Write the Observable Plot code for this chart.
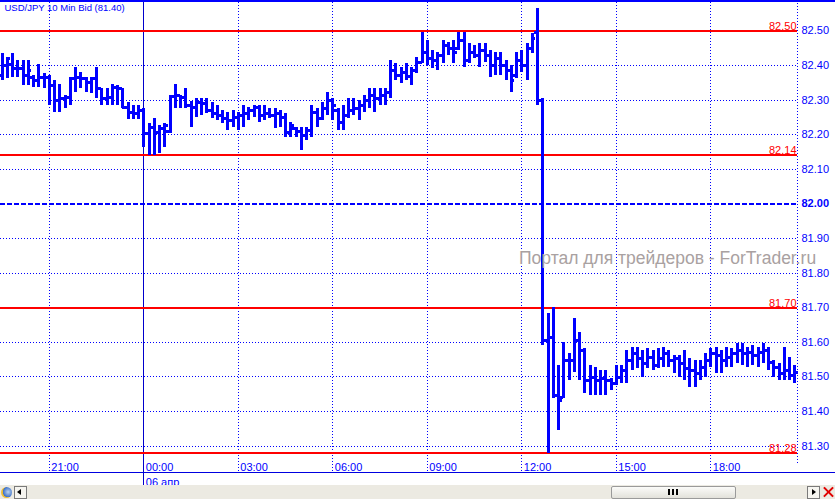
<!DOCTYPE html>
<html>
<head>
<meta charset="utf-8">
<script src="https://cdn.jsdelivr.net/npm/d3@7"></script>
<script src="https://cdn.jsdelivr.net/npm/@observablehq/plot@0.6"></script>
<style>
html,body{margin:0;padding:0;background:#fff;}
#wrap{position:relative;width:835px;height:499px;overflow:hidden;font-family:"Liberation Sans",Arial,sans-serif;}
#chart svg{display:block;}
.abs{position:absolute;}
.topline{left:0;top:0;width:835px;height:2px;background:#0000ff;}
.botline{left:0;top:472px;width:835px;height:1px;background:#0000e0;}
.wm{left:519px;top:250px;font-size:17.5px;line-height:1;color:#a9a1a1;white-space:nowrap;}
.scroll{left:0;top:485px;width:835px;height:14px;background:#eceae2;}
.globe{left:1px;top:487px;width:11px;height:11px;border-radius:50%;background:radial-gradient(circle at 65% 45%,#bcd4ee 0,#3a6fc8 55%,#e8b830 58%,#f4d060 100%);}
.btn{top:486px;width:11px;height:11px;border:1px solid #7a7a7a;background:#f6f5f0;box-sizing:content-box;}
.triL{left:17px;top:489px;width:0;height:0;border-top:3px solid transparent;border-bottom:3px solid transparent;border-right:4px solid #000;}
.triR{left:812px;top:489px;width:0;height:0;border-top:3px solid transparent;border-bottom:3px solid transparent;border-left:4px solid #000;}
.thumb{left:611px;top:486px;width:123px;height:11px;border:1px solid #9a9a9a;background:linear-gradient(#fbfbf9,#e2e1da);border-radius:2px;}
.grip{top:489px;width:2px;height:6px;background:#000;}
.xa,.xb{left:822px;top:491px;width:13px;height:2px;background:#e00000;}
.xa{transform:rotate(45deg);} .xb{transform:rotate(-45deg);}
</style>
</head>
<body>
<div id="wrap">
  <div id="chart"></div>
  <div class="abs topline"></div>
  <div class="abs botline"></div>
  <div class="abs wm">Портал для трейдеров - ForTrader.ru</div>
  <div class="abs scroll"></div>
  <div class="abs globe"></div>
  <div class="abs btn" style="left:14px"></div>
  <div class="abs triL"></div>
  <div class="abs thumb"></div>
  <div class="abs grip" style="left:668px"></div>
  <div class="abs grip" style="left:672px"></div>
  <div class="abs grip" style="left:676px"></div>
  <div class="abs btn" style="left:807px"></div>
  <div class="abs triR"></div>
  <div class="abs xa"></div>
  <div class="abs xb"></div>
</div>
<script>
// ---- data (USD/JPY 10-minute bid bars, 05-06 Apr) ----
const title = "USD/JPY 10 Min Bid (81.40)";
const firstBar = "2012-04-05T19:30:00Z";
const barMinutes = 10;
const xDomain = ["2012-04-05T19:27:00Z", "2012-04-06T20:45:05Z"];
const yDomain = [81.2206, 82.5818];

const open = [
82.371,82.400,82.402,82.390,82.390,82.371,82.366,82.356,82.366,82.366,
82.342,82.299,82.304,82.308,82.361,82.366,82.361,82.352,82.361,82.332,
82.304,82.308,82.337,82.332,82.279,82.265,82.260,
82.270,82.202,82.221,82.207,82.217,82.209,82.311,82.313,82.308,82.284,
82.279,82.294,82.289,82.270,82.260,82.255,82.246,82.241,82.250,82.255,
82.260,82.270,82.279,82.255,82.260,82.255,82.260,82.250,82.207,82.218,
82.209,82.197,82.212,82.264,82.247,82.275,82.299,82.270,82.235,82.255,
82.270,82.275,82.284,82.299,82.313,82.304,82.313,82.322,82.385,82.371,
82.380,82.368,82.385,82.408,82.437,82.420,82.414,82.429,82.458,82.449,
82.449,82.472,82.414,82.437,82.429,82.443,82.429,82.400,82.420,82.400,
82.385,82.371,82.414,82.400,82.449,82.496,82.299,81.605,81.614,81.446,
81.441,81.547,81.547,81.605,81.576,81.489,81.499,81.489,81.494,81.489,
81.480,81.499,81.518,81.547,81.567,81.552,81.538,81.557,81.533,81.552,
81.567,81.547,81.552,81.538,81.523,81.518,81.509,81.528,81.547,81.567,
81.562,81.547,81.557,81.567,81.576,81.567,81.571,81.562,81.571,81.576,
81.542,81.528,81.509,81.518,81.504];

const high = [
82.434,82.424,82.434,82.414,82.414,82.414,82.371,82.402,82.376,82.371,
82.356,82.344,82.313,82.366,82.395,82.380,82.366,82.366,82.395,82.332,
82.332,82.344,82.342,82.332,82.294,82.284,82.284,
82.275,82.231,82.246,82.226,82.231,82.313,82.344,82.313,82.334,82.296,
82.304,82.304,82.304,82.294,82.284,82.270,82.265,82.270,82.265,82.284,
82.279,82.284,82.284,82.284,82.275,82.275,82.270,82.261,82.236,82.221,
82.221,82.221,82.284,82.275,82.294,82.323,82.304,82.275,82.284,82.304,
82.304,82.299,82.313,82.332,82.332,82.332,82.332,82.414,82.405,82.395,
82.405,82.395,82.424,82.496,82.472,82.443,82.438,82.472,82.467,82.472,
82.496,82.496,82.462,82.458,82.462,82.462,82.443,82.438,82.438,82.414,
82.400,82.438,82.443,82.462,82.491,82.564,82.304,81.683,81.701,81.533,
81.600,81.567,81.668,81.629,81.581,81.533,81.528,81.518,81.518,81.494,
81.533,81.533,81.576,81.586,81.586,81.576,81.581,81.576,81.581,81.586,
81.576,81.562,81.562,81.576,81.552,81.547,81.547,81.567,81.581,81.586,
81.576,81.586,81.581,81.596,81.596,81.586,81.591,81.586,81.596,81.586,
81.547,81.538,81.586,81.557,81.533];

const low = [
82.356,82.361,82.366,82.366,82.342,82.342,82.337,82.337,82.332,82.284,
82.265,82.265,82.275,82.284,82.323,82.332,82.323,82.318,82.304,82.284,
82.284,82.284,82.284,82.275,82.244,82.244,82.244,
82.164,82.140,82.140,82.145,82.164,82.202,82.275,82.275,82.275,82.221,
82.250,82.255,82.260,82.246,82.241,82.231,82.212,82.221,82.212,82.221,
82.241,82.250,82.236,82.241,82.246,82.217,82.221,82.193,82.193,82.193,
82.154,82.183,82.193,82.221,82.241,82.255,82.241,82.212,82.212,82.246,
82.255,82.241,82.265,82.275,82.265,82.284,82.284,82.304,82.356,82.347,
82.356,82.342,82.376,82.405,82.400,82.390,82.385,82.405,82.429,82.405,
82.443,82.395,82.405,82.419,82.395,82.409,82.366,82.371,82.371,82.356,
82.323,82.361,82.380,82.356,82.434,82.284,81.591,81.278,81.437,81.345,
81.437,81.489,81.513,81.489,81.451,81.446,81.446,81.446,81.446,81.461,
81.475,81.480,81.480,81.518,81.523,81.499,81.523,81.518,81.523,81.528,
81.528,81.509,81.499,81.489,81.470,81.470,81.489,81.499,81.528,81.509,
81.509,81.528,81.528,81.538,81.533,81.528,81.533,81.528,81.538,81.518,
81.499,81.489,81.489,81.489,81.480];

const close = [
82.400,82.419,82.390,82.390,82.371,82.385,82.356,82.366,82.366,82.342,
82.299,82.304,82.308,82.361,82.366,82.361,82.352,82.361,82.332,82.304,
82.308,82.337,82.332,82.279,82.265,82.260,82.270,
82.202,82.221,82.207,82.217,82.226,82.311,82.313,82.308,82.284,82.279,
82.294,82.289,82.270,82.260,82.255,82.246,82.241,82.250,82.255,82.260,
82.270,82.279,82.255,82.260,82.255,82.260,82.250,82.207,82.226,82.209,
82.197,82.212,82.264,82.247,82.275,82.299,82.284,82.235,82.255,82.270,
82.275,82.284,82.299,82.313,82.304,82.313,82.322,82.385,82.371,82.380,
82.368,82.385,82.408,82.437,82.420,82.414,82.429,82.458,82.449,82.437,
82.472,82.414,82.437,82.429,82.443,82.429,82.400,82.420,82.400,82.385,
82.356,82.414,82.400,82.449,82.478,82.299,81.605,81.614,81.446,81.432,
81.547,81.547,81.605,81.576,81.489,81.499,81.489,81.494,81.489,81.480,
81.499,81.518,81.547,81.567,81.552,81.538,81.557,81.533,81.552,81.567,
81.547,81.552,81.538,81.523,81.518,81.509,81.528,81.547,81.567,81.562,
81.547,81.557,81.567,81.576,81.567,81.571,81.562,81.571,81.576,81.542,
81.528,81.509,81.518,81.504,81.513];

const yTicks = [82.50,82.40,82.30,82.20,82.10,82.00,81.90,81.80,81.70,81.60,81.50,81.40,81.30];
const boldTick = 82.00;
const levels = [82.50, 82.14, 81.70, 81.28];
const gridTimes = ["2012-04-05T21:00:00Z","2012-04-06T03:00:00Z","2012-04-06T06:00:00Z","2012-04-06T09:00:00Z","2012-04-06T12:00:00Z","2012-04-06T15:00:00Z","2012-04-06T18:00:00Z"];
const dayStart = "2012-04-06T00:00:00Z";
const dayLabel = "06 апр";

// ---- build ----
const blue = "#0000ff", red = "#ff0000";
const t0 = new Date(firstBar);
const bars = open.map((o, i) => ({
  date: d3.utcMinute.offset(t0, barMinutes * i),
  open: o, high: high[i], low: low[i], close: close[i]
}));
const grid = gridTimes.map(s => new Date(s));
const day = new Date(dayStart);
const fmt = d3.utcFormat("%H:%M");
const crisp = {shapeRendering: "crispEdges"};

const chart = Plot.plot({
  width: 835, height: 485,
  marginTop: 2, marginBottom: 12, marginLeft: 0, marginRight: 38,
  x: {type: "utc", domain: xDomain.map(s => new Date(s)), axis: null},
  y: {domain: yDomain, axis: null},
  style: {fontFamily: "'Liberation Sans', Arial, sans-serif", fontSize: "11px", background: "#fff", overflow: "visible"},
  marks: [
    Plot.ruleY(yTicks.filter(v => v !== boldTick), {y: d => d, stroke: blue, strokeWidth: 1, strokeDasharray: "1,2", ...crisp}),
    Plot.ruleX(grid, {x: d => d, stroke: blue, strokeWidth: 1, strokeDasharray: "1,2", insetBottom: 1, ...crisp}),
    Plot.ruleX([new Date(xDomain[1])], {x: d => d, stroke: blue, strokeDasharray: "1,2", insetTop: -2, insetBottom: 10, ...crisp}),
    Plot.ruleX([day], {x: d => d, stroke: "#0000cc", strokeWidth: 1, insetTop: -2, insetBottom: -12, ...crisp}),
    Plot.ruleY([boldTick], {y: d => d, stroke: blue, strokeWidth: 2, strokeDasharray: "5,2", ...crisp}),
    Plot.ruleY(levels, {y: d => d, stroke: red, strokeWidth: 2, ...crisp}),
    // OHLC bars
    Plot.ruleX(bars, {x: "date", y1: "low", y2: "high", stroke: blue, strokeWidth: 3, ...crisp}),
    Plot.ruleY(bars, {y: "open", x1: "date", x2: "date", insetLeft: -3.5, insetRight: 0, stroke: blue, strokeWidth: 3, ...crisp}),
    Plot.ruleY(bars, {y: "close", x1: "date", x2: "date", insetLeft: 0, insetRight: -3.5, stroke: blue, strokeWidth: 3, ...crisp}),
    // right price axis
    Plot.text(yTicks.filter(v => v !== boldTick), {y: d => d, text: d => d.toFixed(2), frameAnchor: "right", textAnchor: "start", lineAnchor: "middle", dx: 4, fill: blue, fontSize: 11}),
    Plot.text([boldTick], {y: d => d, text: d => d.toFixed(2), frameAnchor: "right", textAnchor: "start", lineAnchor: "middle", dx: 4, fill: blue, fontSize: 11, fontWeight: "bold"}),
    // level labels
    Plot.text(levels, {y: d => d, text: d => d.toFixed(2), frameAnchor: "right", textAnchor: "end", lineAnchor: "bottom", dx: -1, dy: -1, fill: red, fontSize: 11}),
    // time labels
    Plot.text(grid.concat([day]), {x: d => d, text: d => fmt(d), frameAnchor: "bottom", textAnchor: "start", lineAnchor: "bottom", dx: 2, dy: -3, fill: blue, fontSize: 11}),
    Plot.text([day], {x: d => d, text: () => dayLabel, frameAnchor: "bottom", textAnchor: "start", lineAnchor: "bottom", dx: 2, dy: 12, fill: blue, fontSize: 11}),
    // title
    Plot.text([title], {text: d => d, frameAnchor: "top-left", textAnchor: "start", lineAnchor: "top", dx: 4, dy: 2, fill: blue, fontSize: 9.5})
  ]
});
document.getElementById("chart").appendChild(chart);
</script>
</body>
</html>
